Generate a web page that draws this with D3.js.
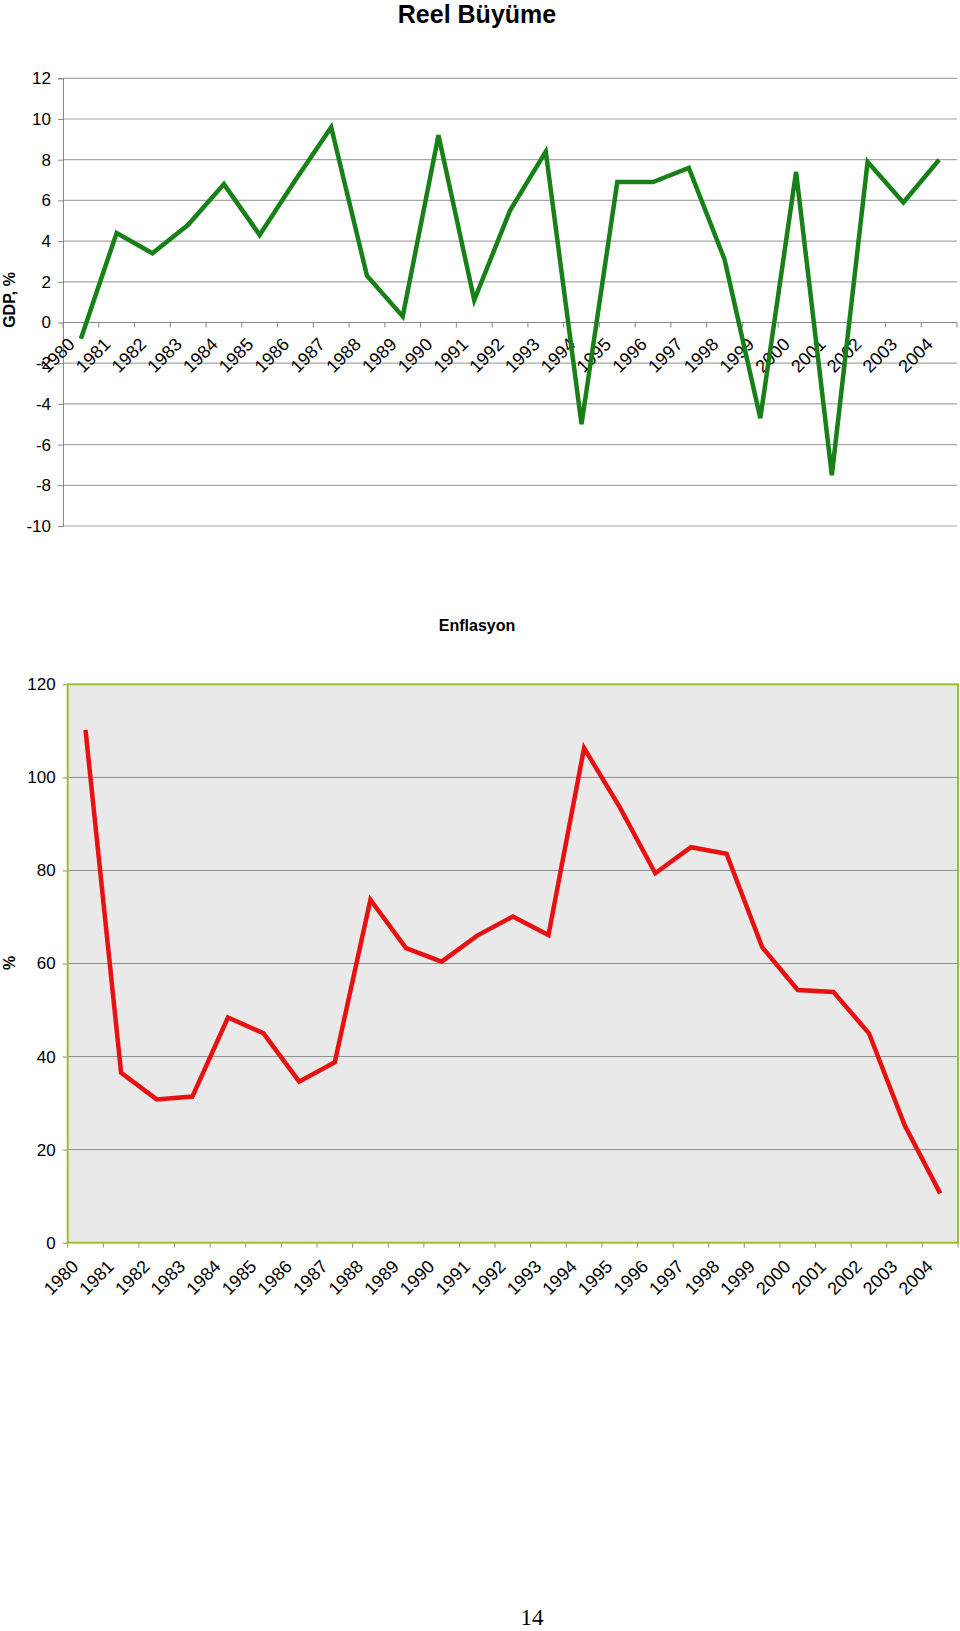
<!DOCTYPE html>
<html><head><meta charset="utf-8">
<script src="https://cdn.jsdelivr.net/npm/d3@7"></script>
<style>body{margin:0;background:#fff}svg{display:block}</style>
</head><body>
<svg id="c" width="960" height="1631"></svg>
<script>
const years = ["1980","1981","1982","1983","1984","1985","1986","1987","1988","1989","1990","1991","1992","1993","1994","1995","1996","1997","1998","1999","2000","2001","2002","2003","2004"];
const gdpValues = [-0.8,4.4,3.4,4.8,6.8,4.3,7.0,9.6,2.3,0.3,9.2,1.1,5.5,8.4,-5.0,6.9,6.9,7.6,3.1,-4.7,7.4,-7.5,7.9,5.9,8.0];
const inflationValues = [110.2,36.5,30.8,31.4,48.4,45.0,34.6,38.8,73.7,63.3,60.4,66.0,70.1,66.1,106.3,93.6,79.4,85.0,83.6,63.5,54.3,53.9,45.0,25.3,10.6];
const gdpTicks = [12,10,8,6,4,2,0,-2,-4,-6,-8,-10];
const inflationTicks = [0,20,40,60,80,100,120];

const svg = d3.select("#c");
const FONT = "'Liberation Sans', Arial, sans-serif";
const fmt = d => String(d); // plain hyphen-minus like the reference

// ---------- Top chart: Reel Büyüme ----------
svg.append("text").attr("x", 477).attr("y", 23).attr("text-anchor","middle")
  .attr("font-family", FONT).attr("font-weight","bold").attr("font-size", 25).text("Reel Büyüme");

const x1 = d3.scaleBand().domain(years).range([63, 957]);
const y1 = d3.scaleLinear().domain([-10, 12]).range([526, 78.3]);

const g1 = svg.append("g");
g1.selectAll("line.grid").data(gdpTicks).join("line")
  .attr("x1", 63).attr("x2", 957).attr("y1", d=>y1(d)).attr("y2", d=>y1(d))
  .attr("stroke", "#a6a6a6").attr("stroke-width", 1.2);
// y axis
const ya1 = d3.axisLeft(y1).tickValues(gdpTicks).tickSize(5).tickPadding(6).tickFormat(fmt);
const yg1 = svg.append("g").attr("transform","translate(63,0)").call(ya1);
yg1.select(".domain").attr("stroke","#888");
yg1.selectAll(".tick line").attr("stroke","#888");
yg1.selectAll(".tick text").attr("font-family", FONT).attr("font-size", 17).attr("fill","#000").attr("dx", -1);
// x axis at 0
const bw1 = x1.bandwidth();
const xg1 = svg.append("g");
xg1.append("line").attr("x1",63).attr("x2",957).attr("y1",y1(0)).attr("y2",y1(0)).attr("stroke","#888").attr("stroke-width",1.2);
xg1.selectAll("line.t").data(years.concat(["end"])).join("line")
  .attr("x1",(d,i)=>63+i*bw1).attr("x2",(d,i)=>63+i*bw1)
  .attr("y1",y1(0)).attr("y2",y1(0)+5).attr("stroke","#888");
xg1.selectAll("text").data(years).join("text")
  .attr("transform", d=>`translate(${x1(d)+bw1/2-5},${y1(0)+23}) rotate(-45)`)
  .attr("text-anchor","end").attr("font-family",FONT).attr("font-size",18).attr("fill","#000").text(d=>d);
// line
svg.append("path").datum(gdpValues)
  .attr("d", d3.line().x((d,i)=>x1(years[i])+bw1/2).y(d=>y1(d)))
  .attr("fill","none").attr("stroke","#178017").attr("stroke-width",4.5).attr("stroke-linejoin","miter");
// y label
svg.append("text").attr("transform","translate(15,300) rotate(-90)").attr("text-anchor","middle")
  .attr("font-family",FONT).attr("font-weight","bold").attr("font-size",16).text("GDP, %");

// ---------- Bottom chart: Enflasyon ----------
svg.append("text").attr("x", 477).attr("y", 631).attr("text-anchor","middle")
  .attr("font-family", FONT).attr("font-weight","bold").attr("font-size", 16).text("Enflasyon");

const x2 = d3.scaleBand().domain(years).range([67.7, 958]);
const y2 = d3.scaleLinear().domain([0, 120]).range([1242.7, 684.3]);
const bw2 = x2.bandwidth();

svg.append("rect").attr("x",67.7).attr("y",684.3).attr("width",958-67.7).attr("height",1242.7-684.3)
  .attr("fill","#e9e9e9");
svg.selectAll("line.grid2").data(inflationTicks.filter(d=>d>0&&d<120)).join("line")
  .attr("x1",67.7).attr("x2",958).attr("y1",d=>y2(d)).attr("y2",d=>y2(d))
  .attr("stroke","#8c8c8c").attr("stroke-width",1);
const ya2 = d3.axisLeft(y2).tickValues(inflationTicks).tickSize(5).tickPadding(7).tickFormat(fmt);
const yg2 = svg.append("g").attr("transform","translate(67.7,0)").call(ya2);
yg2.select(".domain").remove();
yg2.selectAll(".tick line").attr("stroke","#888");
yg2.selectAll(".tick text").attr("font-family", FONT).attr("font-size", 17).attr("fill","#000");
// x ticks
svg.selectAll("line.t2").data(years.concat(["end"])).join("line")
  .attr("x1",(d,i)=>67.7+i*bw2).attr("x2",(d,i)=>67.7+i*bw2)
  .attr("y1",y2(0)).attr("y2",y2(0)+5).attr("stroke","#8a9a6a");
svg.append("g").selectAll("text").data(years).join("text")
  .attr("transform", d=>`translate(${x2(d)+bw2/2-6},${y2(0)+25}) rotate(-45)`)
  .attr("text-anchor","end").attr("font-family",FONT).attr("font-size",18).attr("fill","#000").text(d=>d);
// border
svg.append("rect").attr("x",67.7).attr("y",684.3).attr("width",958-67.7).attr("height",1242.7-684.3)
  .attr("fill","none").attr("stroke","#9cbf2e").attr("stroke-width",2);
// line
svg.append("path").datum(inflationValues)
  .attr("d", d3.line().x((d,i)=>x2(years[i])+bw2/2).y(d=>y2(d)))
  .attr("fill","none").attr("stroke","#e81010").attr("stroke-width",4.5);
svg.append("text").attr("transform","translate(15,963) rotate(-90)").attr("text-anchor","middle")
  .attr("font-family",FONT).attr("font-weight","bold").attr("font-size",16).text("%");

// page number
svg.append("text").attr("x",532).attr("y",1625).attr("text-anchor","middle")
  .attr("font-family","'Liberation Serif', 'Times New Roman', serif").attr("font-size",23).text("14");
</script>
</body></html>
